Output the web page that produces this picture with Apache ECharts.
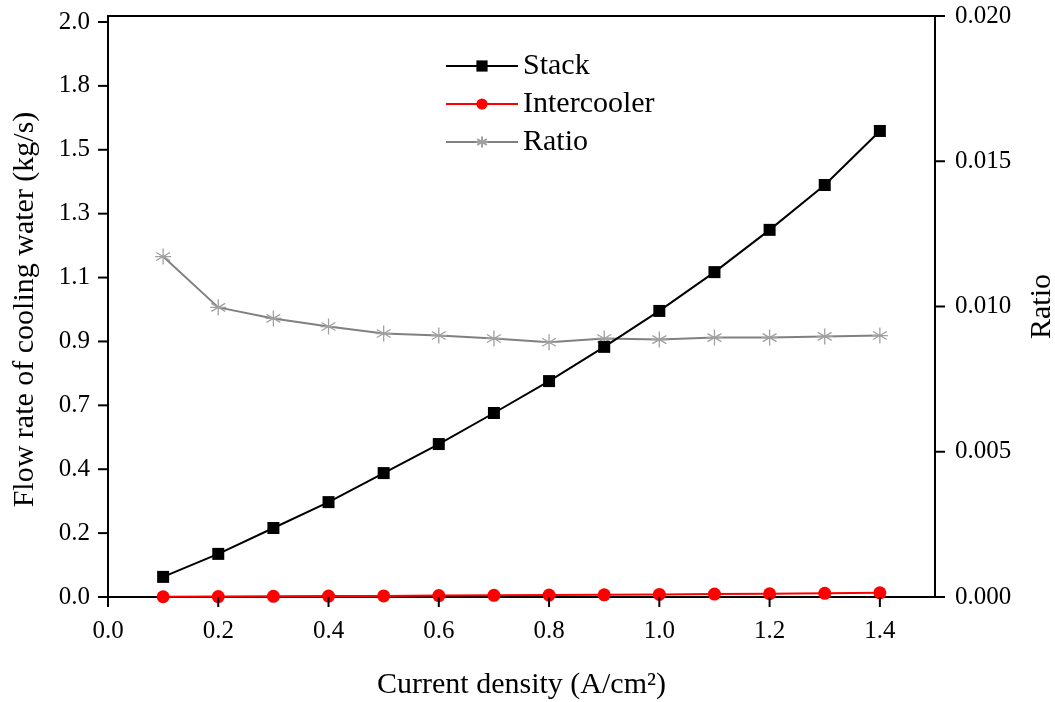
<!DOCTYPE html>
<html>
<head>
<meta charset="utf-8">
<script src="https://cdn.jsdelivr.net/npm/echarts@6/dist/echarts.min.js"></script>
<style>html,body{margin:0;padding:0;background:#fff;overflow:hidden;}#c{width:1055px;height:702px;background:#fff;}</style>
</head>
<body>
<div id="c"></div>
<script>
const currentDensity = [0.1, 0.2, 0.3, 0.4, 0.5, 0.6, 0.7, 0.8, 0.9, 1.0, 1.1, 1.2, 1.3, 1.4];
const stackFlow = [0.070, 0.150, 0.240, 0.330, 0.431, 0.532, 0.640, 0.751, 0.870, 0.995, 1.130, 1.277, 1.433, 1.621];
const intercoolerFlow = [0.0008, 0.0015, 0.0023, 0.0031, 0.0039, 0.0048, 0.0057, 0.0066, 0.0077, 0.0088, 0.0101, 0.0114, 0.0129, 0.0146];
const ratio = [0.01172, 0.00997, 0.00959, 0.00931, 0.00907, 0.00900, 0.00890, 0.00877, 0.00890, 0.00886, 0.00893, 0.00893, 0.00897, 0.00900];
const leftTickValues = [0, 2/9, 4/9, 6/9, 8/9, 10/9, 12/9, 14/9, 16/9, 2];
const leftTickLabels = ['0.0', '0.2', '0.4', '0.7', '0.9', '1.1', '1.3', '1.5', '1.8', '2.0'];
const xTickValues = [0, 0.2, 0.4, 0.6, 0.8, 1.0, 1.2, 1.4];
const xTickLabels = ['0.0', '0.2', '0.4', '0.6', '0.8', '1.0', '1.2', '1.4'];
const rightTickValues = [0, 0.005, 0.010, 0.015, 0.020];
const rightTickLabels = ['0.000', '0.005', '0.010', '0.015', '0.020'];

const FONT = 'Liberation Serif';
const X_MAX = 1.5;
const LEFT_STEP = 2 / 9;
const TICK_LEN = 10;
const pairs = (ys) => currentDensity.map((x, i) => [x, ys[i]]);
const ls = () => ({ color: '#000', width: 2 });

// axis tick marks, positioned through the axes' own scales
function tickSeries(xIdx, yIdx, data, dx, dy) {
  return {
    type: 'custom', xAxisIndex: xIdx, yAxisIndex: yIdx, silent: true, clip: false, z: 10,
    data: data,
    renderItem: (params, api) => {
      const p = api.coord([api.value(0), api.value(1)]);
      return { type: 'line', shape: { x1: p[0], y1: p[1], x2: p[0] + dx, y2: p[1] + dy }, style: { stroke: '#000', lineWidth: 2 } };
    }
  };
}

const chart = echarts.init(document.getElementById('c'), null, { width: 1055, height: 702 });
chart.setOption({
  animation: false,
  grid: [
    { left: 108, right: 120, top: 22, bottom: 105, outerBoundsMode: 'none', containLabel: false },
    { left: 108, right: 120, top: 16, bottom: 105, outerBoundsMode: 'none', containLabel: false }
  ],
  legend: {
    orient: 'vertical',
    left: 440,
    top: 46,
    itemWidth: 72,
    itemHeight: 14,
    itemGap: 8,
    textStyle: { fontFamily: FONT, fontSize: 30, color: '#000' },
    data: ['Stack', 'Intercooler', 'Ratio']
  },
  xAxis: [{
    gridIndex: 0,
    type: 'value',
    position: 'bottom',
    min: 0, max: X_MAX, interval: 0.2,
    name: 'Current density (A/cm²)',
    nameLocation: 'middle',
    nameGap: 73,
    nameTextStyle: { fontFamily: FONT, fontSize: 30, color: '#000' },
    axisLine: { show: true, lineStyle: ls() },
    axisTick: { show: false },
    axisLabel: {
      fontFamily: FONT, fontSize: 25, color: '#000', margin: 22,
      showMaxLabel: false,
      formatter: (v) => { const i = Math.round(v / 0.2); return Math.abs(v - i * 0.2) < 1e-6 && i < xTickLabels.length ? xTickLabels[i] : ''; }
    },
    splitLine: { show: false }
  }, {
    gridIndex: 1,
    type: 'value',
    position: 'top',
    min: 0, max: X_MAX,
    axisLine: { show: true, onZero: false, lineStyle: ls() },
    axisTick: { show: false },
    axisLabel: { show: false },
    splitLine: { show: false }
  }],
  yAxis: [{
    gridIndex: 0,
    type: 'value',
    position: 'left',
    min: 0, max: 2, interval: LEFT_STEP,
    name: 'Flow rate of cooling water (kg/s)',
    nameLocation: 'middle',
    nameRotate: 90,
    nameGap: 68,
    nameTextStyle: { fontFamily: FONT, fontSize: 30, color: '#000' },
    axisLine: { show: true, lineStyle: ls() },
    axisTick: { show: false },
    axisLabel: {
      fontFamily: FONT, fontSize: 25, color: '#000', margin: 18,
      formatter: (v) => { const i = Math.round(v / LEFT_STEP); return Math.abs(v - i * LEFT_STEP) < 1e-6 ? (leftTickLabels[i] || '') : ''; }
    },
    splitLine: { show: false }
  }, {
    gridIndex: 1,
    type: 'value',
    position: 'right',
    min: 0, max: 0.02, interval: 0.005,
    name: 'Ratio',
    nameLocation: 'middle',
    nameRotate: 90,
    nameGap: 92,
    nameTextStyle: { fontFamily: FONT, fontSize: 30, color: '#000' },
    axisLine: { show: true, onZero: false, lineStyle: ls() },
    axisTick: { show: false },
    axisLabel: {
      fontFamily: FONT, fontSize: 25, color: '#000', margin: 20,
      formatter: (v) => { const i = Math.round(v / 0.005); return rightTickLabels[i] || ''; }
    },
    splitLine: { show: false }
  }, {
    gridIndex: 1,
    type: 'value',
    position: 'left',
    min: 0, max: 1,
    axisLine: { show: true, onZero: false, lineStyle: ls() },
    axisTick: { show: false },
    axisLabel: { show: false },
    splitLine: { show: false }
  }],
  series: [{
    name: 'Stack',
    type: 'line',
    xAxisIndex: 0, yAxisIndex: 0,
    data: pairs(stackFlow),
    symbol: 'rect',
    symbolSize: 12,
    lineStyle: { color: '#000', width: 2 },
    itemStyle: { color: '#000' },
    z: 3
  }, {
    name: 'Intercooler',
    type: 'line',
    xAxisIndex: 0, yAxisIndex: 0,
    data: pairs(intercoolerFlow),
    symbol: 'circle',
    symbolSize: 13,
    lineStyle: { color: '#ff0000', width: 2 },
    itemStyle: { color: '#ff0000' },
    z: 4
  }, {
    name: 'Ratio',
    type: 'line',
    xAxisIndex: 1, yAxisIndex: 1,
    data: pairs(ratio),
    symbol: 'path://M10,0L10,20M1.34,5L18.66,15M1.34,15L18.66,5M0,10L20,10',
    symbolSize: 16,
    lineStyle: { color: '#808080', width: 2 },
    itemStyle: { color: '#a0a0a0', borderColor: '#a0a0a0', borderWidth: 1.3 },
    z: 2
  },
  tickSeries(0, 0, xTickValues.map(v => [v, 0]), 0, TICK_LEN),
  tickSeries(0, 0, leftTickValues.map(v => [0, v]), -TICK_LEN, 0),
  tickSeries(1, 1, rightTickValues.map(v => [X_MAX, v]), TICK_LEN, 0)
  ]
});
</script>
</body>
</html>
